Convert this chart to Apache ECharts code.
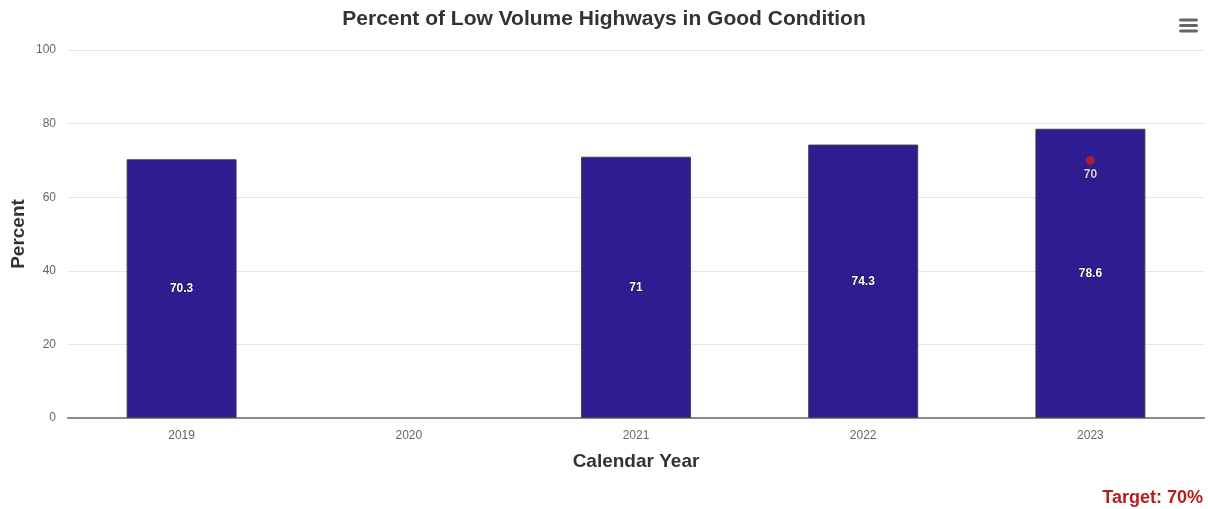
<!DOCTYPE html>
<html>
<head>
<meta charset="utf-8">
<script src="https://cdn.jsdelivr.net/npm/echarts@6/dist/echarts.min.js"></script>
<style>
html,body{margin:0;padding:0;background:#fff;}
#chart{width:1208px;height:509px;}
</style>
</head>
<body>
<div id="chart"></div>
<script>
const categories = ['2019', '2020', '2021', '2022', '2023'];
const conditionValues = [70.3, null, 71, 74.3, 78.6];
const targetValues = [null, null, null, null, 70];
const yTicks = [0, 20, 40, 60, 80, 100];

const chart = echarts.init(document.getElementById('chart'), null, {renderer: 'canvas'});
const FONT = '"Liberation Sans", Arial, Helvetica, sans-serif';

chart.setOption({
  animation: false,
  backgroundColor: '#fff',
  textStyle: {fontFamily: FONT},
  title: {
    text: 'Percent of Low Volume Highways in Good Condition',
    left: 'center',
    top: 4,
    textStyle: {fontFamily: FONT, fontSize: 21, fontWeight: 'bold', color: '#333'}
  },
  grid: {left: 68, right: 4, top: 50, bottom: 91, containLabel: false, outerBoundsMode: 'none'},
  xAxis: {
    type: 'category',
    data: categories,
    name: 'Calendar Year',
    nameLocation: 'middle',
    nameGap: 34,
    nameMoveOverlap: false,
    nameTextStyle: {fontFamily: FONT, fontSize: 19, fontWeight: 'bold', color: '#333'},
    axisLine: {lineStyle: {color: '#8a8a8a', width: 2}},
    axisTick: {show: false},
    axisLabel: {fontFamily: FONT, fontSize: 12, color: '#666', margin: 12}
  },
  yAxis: {
    type: 'value',
    min: yTicks[0],
    max: yTicks[yTicks.length - 1],
    interval: 20,
    name: 'Percent',
    nameLocation: 'middle',
    nameGap: 40,
    nameMoveOverlap: false,
    nameTextStyle: {fontFamily: FONT, fontSize: 19, fontWeight: 'bold', color: '#333'},
    axisLine: {show: false},
    axisTick: {show: false},
    splitLine: {lineStyle: {color: '#e6e6e6', width: 1}},
    axisLabel: {fontFamily: FONT, fontSize: 12, color: '#666', margin: 12}
  },
  series: [
    {
      type: 'bar',
      data: conditionValues,
      barWidth: 110,
      itemStyle: {color: '#2f1c91', borderColor: '#444', borderWidth: 1},
      label: {
        show: true,
        position: 'inside',
        fontFamily: FONT,
        fontSize: 12,
        fontWeight: 'bold',
        color: '#fff',
        textBorderColor: 'rgba(0,0,0,0.6)',
        textBorderWidth: 1
      },
      z: 2
    },
    {
      type: 'scatter',
      data: targetValues,
      symbol: 'circle',
      symbolSize: 9,
      itemStyle: {color: '#c21f1f'},
      label: {
        show: true,
        position: 'bottom',
        distance: 4,
        fontFamily: FONT,
        fontSize: 12,
        fontWeight: 'bold',
        color: '#fff',
        textBorderColor: 'rgba(0,0,0,0.6)',
        textBorderWidth: 1
      },
      z: 5
    }
  ],
  graphic: [
    {type: 'rect', left: 1179, top: 18.5, shape: {width: 19, height: 3, r: 1.5}, style: {fill: '#666'}},
    {type: 'rect', left: 1179, top: 24, shape: {width: 19, height: 3, r: 1.5}, style: {fill: '#666'}},
    {type: 'rect', left: 1179, top: 29.5, shape: {width: 19, height: 3, r: 1.5}, style: {fill: '#666'}},
    {
      type: 'text',
      right: 5,
      top: 489,
      style: {text: 'Target: 70%', fill: '#b71c1c', font: 'bold 18px ' + FONT}
    }
  ]
});
</script>
</body>
</html>
